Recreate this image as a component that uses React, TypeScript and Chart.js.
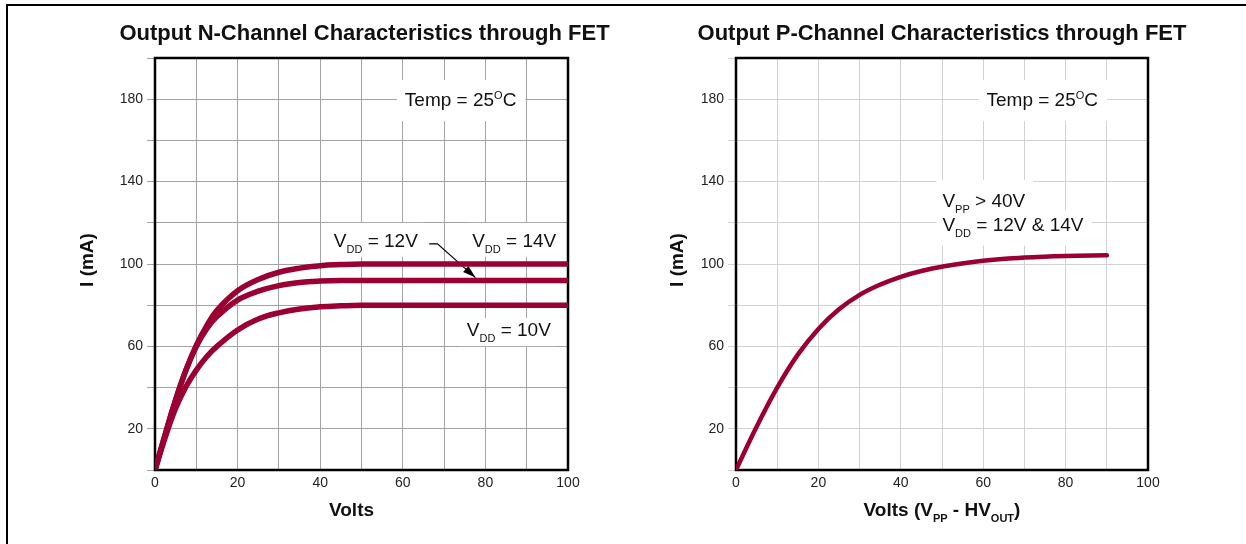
import React, { useEffect, useRef } from 'react';
import { Chart, registerables } from 'chart.js';

Chart.register(...registerables);

// ---------- data ----------
const nVolts = [0, 2.5, 5, 7.5, 10, 12.5, 15, 20, 25, 30, 35, 40, 45, 50, 60, 70, 80, 90, 100];
const nVdd14 = [0, 17.5, 34, 48.5, 60.5, 70, 77.5, 87, 92.5, 96, 98, 99.2, 99.7, 100, 100, 100, 100, 100, 100];
const nVdd12 = [0, 17.5, 34, 48.5, 60, 68.5, 74.5, 82.5, 86.8, 89.5, 91, 91.7, 92, 92, 92, 92, 92, 92, 92];
const nVdd10 = [0, 16, 30, 40.5, 48.5, 55, 60, 68, 73.3, 76.3, 78.2, 79.2, 79.7, 80, 80, 80, 80, 80, 80];

const pVolts = [0, 5, 10, 15, 20, 25, 30, 35, 40, 45, 50, 60, 70, 80, 90];
const pCurrent = [0, 21, 40, 56, 68.5, 78, 85, 90, 93.8, 96.6, 98.7, 101.6, 103.1, 103.9, 104.2];

const xTickLabels = [0, 20, 40, 60, 80, 100];
const yTickLabels = [20, 60, 100, 140, 180];

// ---------- text helpers ----------
const FAMILY = '"Liberation Sans", Arial, Helvetica, sans-serif';
const font = (size: number, bold = false) => `${bold ? 'bold ' : ''}${size}px ${FAMILY}`;

type Part = { t: string; s?: 'sub' | 'sup' };
type Note = { x: number; y: number; parts: Part[]; pad: [number, number, number, number] };

const MAIN = 19;
const SMALL = 11;

function measureRich(ctx: CanvasRenderingContext2D, parts: Part[], size: number, sub: number, bold: boolean) {
  let w = 0;
  for (const p of parts) {
    ctx.font = font(p.s ? sub : size, bold);
    w += ctx.measureText(p.t).width;
  }
  return w;
}

function drawRich(
  ctx: CanvasRenderingContext2D,
  parts: Part[],
  x: number,
  y: number,
  size: number,
  sub: number,
  bold: boolean,
  align: 'left' | 'center'
) {
  const w = measureRich(ctx, parts, size, sub, bold);
  let cx = align === 'center' ? x - w / 2 : x;
  ctx.textAlign = 'left';
  ctx.textBaseline = 'alphabetic';
  for (const p of parts) {
    ctx.font = font(p.s ? sub : size, bold);
    const dy = p.s === 'sub' ? 6 : p.s === 'sup' ? -size * 0.36 : 0;
    ctx.fillText(p.t, cx, y + dy);
    cx += ctx.measureText(p.t).width;
  }
  return w;
}

type Decor = {
  title: string;
  titleDx: number;
  xTitle: Part[];
  xTitleDx: number;
  yTitleOffset: number;
  notes: Note[];
  arrow?: number[][];
};

function decorPlugin(spec: Decor) {
  return {
    id: 'decor',
    beforeDatasetsDraw(chart: any) {
      const { ctx, chartArea: a, scales } = chart;
      const xs = scales.x;
      const ys = scales.y;
      ctx.save();
      // white label backgrounds
      ctx.fillStyle = '#ffffff';
      for (const n of spec.notes) {
        const px = xs.getPixelForValue(n.x);
        const py = ys.getPixelForValue(n.y);
        const w = measureRich(ctx, n.parts, MAIN, SMALL, false);
        ctx.fillRect(px - n.pad[0], py - n.pad[2], w + n.pad[0] + n.pad[1], n.pad[2] + n.pad[3]);
      }
      ctx.fillStyle = '#111111';
      for (const n of spec.notes) {
        drawRich(ctx, n.parts, xs.getPixelForValue(n.x), ys.getPixelForValue(n.y), MAIN, SMALL, false, 'left');
      }
      // leader arrow
      if (spec.arrow) {
        const pp = spec.arrow.map(([vx, vy]) => [xs.getPixelForValue(vx), ys.getPixelForValue(vy)]);
        ctx.strokeStyle = '#000';
        ctx.lineWidth = 1.2;
        ctx.beginPath();
        pp.forEach(([px, py], i) => (i ? ctx.lineTo(px, py) : ctx.moveTo(px, py)));
        ctx.stroke();
        const [x1, y1] = pp[pp.length - 2];
        const [x2, y2] = pp[pp.length - 1];
        const ang = Math.atan2(y2 - y1, x2 - x1);
        const L = 13;
        const W = 4;
        ctx.fillStyle = '#000';
        ctx.beginPath();
        ctx.moveTo(x2, y2);
        ctx.lineTo(x2 - L * Math.cos(ang) + W * Math.sin(ang), y2 - L * Math.sin(ang) - W * Math.cos(ang));
        ctx.lineTo(x2 - L * Math.cos(ang) - W * Math.sin(ang), y2 - L * Math.sin(ang) + W * Math.cos(ang));
        ctx.closePath();
        ctx.fill();
      }
      // plot frame
      ctx.strokeStyle = '#000';
      ctx.lineWidth = 2.5;
      ctx.strokeRect(a.left, a.top, a.right - a.left, a.bottom - a.top);
      // chart title
      ctx.fillStyle = '#111111';
      ctx.font = font(22, true);
      ctx.textAlign = 'center';
      ctx.textBaseline = 'alphabetic';
      const cx = (a.left + a.right) / 2;
      ctx.fillText(spec.title, cx + spec.titleDx, 40);
      // x-axis title
      drawRich(ctx, spec.xTitle, cx + spec.xTitleDx, 516, 19, 11, true, 'center');
      // y-axis title
      ctx.save();
      ctx.translate(a.left - spec.yTitleOffset, (a.top + a.bottom) / 2 - 4);
      ctx.rotate(-Math.PI / 2);
      ctx.font = font(19, true);
      ctx.textAlign = 'center';
      ctx.textBaseline = 'middle';
      ctx.fillText('I (mA)', 0, 0);
      ctx.restore();
      ctx.restore();
    },
  };
}

const LINE = '#9a0032';
const STRIPE = 'rgba(214,150,170,0.85)';

function makeOptions(areaLeft: number, padRight: number, gridColor: string) {
  return {
    animation: false as const,
    responsive: false,
    maintainAspectRatio: false,
    layout: { padding: { left: 0, right: padRight, top: 58, bottom: 0 } },
    plugins: { legend: { display: false }, tooltip: { enabled: false }, title: { display: false } },
    elements: { point: { radius: 0 } },
    scales: {
      x: {
        type: 'linear' as const,
        min: 0,
        max: 100,
        border: { display: false },
        grid: { color: gridColor, lineWidth: 1, drawTicks: false },
        ticks: {
          stepSize: 10,
          autoSkip: false,
          maxRotation: 0,
          padding: 5,
          color: '#222',
          font: { family: FAMILY, size: 14 },
          callback: (v: any) => (xTickLabels.includes(Number(v)) ? String(v) : ''),
        },
        afterFit: (s: any) => {
          s.height = 74;
        },
      },
      y: {
        type: 'linear' as const,
        min: 0,
        max: 200,
        border: { display: false },
        grid: { color: gridColor, lineWidth: 1, drawTicks: true, tickLength: 8 },
        ticks: {
          stepSize: 20,
          autoSkip: false,
          padding: 4,
          color: '#222',
          font: { family: FAMILY, size: 14 },
          callback: (v: any) => (yTickLabels.includes(Number(v)) ? String(v) : ''),
        },
        afterFit: (s: any) => {
          s.width = areaLeft;
        },
      },
    },
  };
}

const pts = (xs: number[], ys: number[], fromX = -Infinity) =>
  xs.map((x, i) => ({ x, y: ys[i] })).filter((p) => p.x >= fromX);

const lineStyle = (w: number, color = LINE) => ({
  borderColor: color,
  borderWidth: w,
  borderCapStyle: 'round' as const,
  borderJoinStyle: 'round' as const,
  tension: 0.4,
  fill: false,
  pointRadius: 0,
});

const tempParts: Part[] = [{ t: 'Temp = 25' }, { t: 'O', s: 'sup' }, { t: 'C' }];

const nNotes: Note[] = [
  { x: 60.5, y: 176.7, parts: tempParts, pad: [8, 9, 26, 15] },
  { x: 43.3, y: 108.3, parts: [{ t: 'V' }, { t: 'DD', s: 'sub' }, { t: ' = 12V' }], pad: [6, 6, 24, 10] },
  { x: 76.8, y: 108.3, parts: [{ t: 'V' }, { t: 'DD', s: 'sub' }, { t: ' = 14V' }], pad: [6, 6, 24, 10] },
  { x: 75.5, y: 65, parts: [{ t: 'V' }, { t: 'DD', s: 'sub' }, { t: ' = 10V' }], pad: [6, 6, 18, 10] },
];
const nArrow = [
  [66.4, 109.8],
  [68.4, 109.8],
  [77.6, 93.4],
];

const pNotes: Note[] = [
  { x: 60.8, y: 176.7, parts: tempParts, pad: [8, 9, 26, 15] },
  { x: 50.1, y: 127.7, parts: [{ t: 'V' }, { t: 'PP', s: 'sub' }, { t: ' > 40V' }], pad: [6, 8, 27, 4] },
  { x: 50.1, y: 116.2, parts: [{ t: 'V' }, { t: 'DD', s: 'sub' }, { t: ' = 12V & 14V' }], pad: [6, 8, 20, 15] },
];

function ChartCanvas({ width, build }: { width: number; build: (c: HTMLCanvasElement) => Chart }) {
  const ref = useRef<HTMLCanvasElement>(null);
  useEffect(() => {
    if (!ref.current) return;
    const chart = build(ref.current);
    return () => chart.destroy();
  }, []);
  return <canvas ref={ref} width={width} height={544} style={{ width, height: 544, display: 'block' }} />;
}

export default function App() {
  useEffect(() => {
    document.body.style.margin = '0';
    document.body.style.overflow = 'hidden';
  }, []);

  const buildN = (c: HTMLCanvasElement) =>
    new Chart(c, {
      type: 'line',
      data: {
        datasets: [
          { ...lineStyle(5.5), data: pts(nVolts, nVdd10) },
          { ...lineStyle(5.5), data: pts(nVolts, nVdd12) },
          { ...lineStyle(5.5), data: pts(nVolts, nVdd14) },
          { ...lineStyle(1, STRIPE), data: pts(nVolts, nVdd10, 40) },
          { ...lineStyle(1, STRIPE), data: pts(nVolts, nVdd14, 40) },
        ],
      },
      options: makeOptions(155, 620 - 568, '#a3a3a3') as any,
      plugins: [
        decorPlugin({
          title: 'Output N-Channel Characteristics through FET',
          titleDx: 3,
          xTitle: [{ t: 'Volts' }],
          xTitleDx: -10,
          yTitleOffset: 67,
          notes: nNotes,
          arrow: nArrow,
        }),
      ],
    });

  const buildP = (c: HTMLCanvasElement) =>
    new Chart(c, {
      type: 'line',
      data: {
        datasets: [{ ...lineStyle(4.5), data: pts(pVolts, pCurrent) }],
      },
      options: makeOptions(116, 626 - 528, '#d2d2d2') as any,
      plugins: [
        decorPlugin({
          title: 'Output P-Channel Characteristics through FET',
          titleDx: 0,
          xTitle: [{ t: 'Volts (V' }, { t: 'PP', s: 'sub' }, { t: ' - HV' }, { t: 'OUT', s: 'sub' }, { t: ')' }],
          xTitleDx: 0,
          yTitleOffset: 58,
          notes: pNotes,
        }),
      ],
    });

  return (
    <div style={{ position: 'relative', width: 1246, height: 544, overflow: 'hidden', background: '#fff' }}>
      <div
        style={{
          position: 'absolute',
          left: 6,
          top: 4,
          width: 1300,
          height: 600,
          borderTop: '2px solid #000',
          borderLeft: '2px solid #000',
        }}
      />
      <div style={{ position: 'absolute', left: 0, top: 0 }}>
        <ChartCanvas width={620} build={buildN} />
      </div>
      <div style={{ position: 'absolute', left: 620, top: 0 }}>
        <ChartCanvas width={626} build={buildP} />
      </div>
    </div>
  );
}
